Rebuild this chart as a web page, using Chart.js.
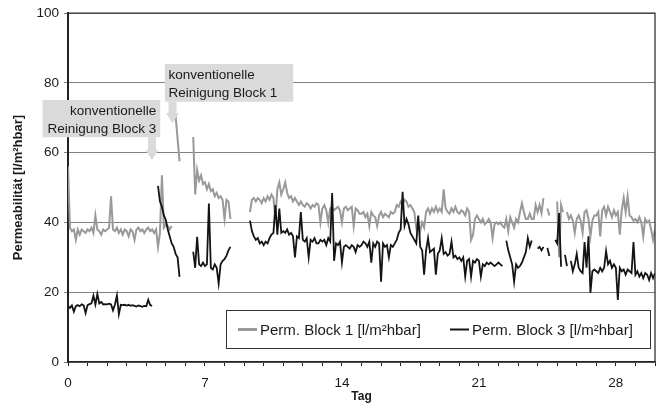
<!DOCTYPE html>
<html lang="de">
<head>
<meta charset="utf-8">
<title>Permeabilität Block 1 / Block 3</title>
<script src="https://cdn.jsdelivr.net/npm/chart.js@4.4.1/dist/chart.umd.min.js"></script>
<style>
  html, body { margin: 0; padding: 0; background: #fff; }
  canvas { display: block; }
</style>
</head>
<body>
<canvas id="perm-chart" width="664" height="405"></canvas>
<script>
// Messwerte alle 0,1 Tage, eine Zeile pro Tag (null = keine Daten)
const SCHRITT = 0.1;

const block1 = [
  56, 38.5, 37.5, 38, 35, 38, 36.5, 38, 37.5, 37,
  38, 37.5, 38.5, 37, 42, 38, 37.5, 36.5, 38, 37.5,
  38, 38.5, 47.5, 38, 37.5, 38.5, 37, 38, 36.5, 38,
  37.5, 36, 38, 37.5, 35, 38, 38.5, 37.5, 38, 37,
  38, 38.5, 37.5, 38, 37, 38, 33, 37, 53.5, 38.5,
  39.5, 39, 38, 39, null, 70.5, 64, 57.5, null, null,
  null, null, null, null, 64.5, 48, 55, 52, 53.5, 51,
  51.5, 49.5, 51, 49, 49.5, 47.5, 48.5, 47, 47.5, 46.5,
  41, 46.5, 46, 41, null, null, null, null, null, null,
  null, null, null, 43, 46.5, 47, 46, 47, 46.5, 45.5,
  47, 46, 47.5, 46.5, 48, 47, 41, 49.5, 51.5, 48,
  49.5, 51.5, 48.5, 47, 47.5, 46, 47, 46, 45, 46,
  45, 44.5, 45.5, 45, 44, 45, 44.5, 45.5, 45, 40,
  44, 45, 43.5, 40, 44, 44.5, 43.5, 44, 44.5, 43.5,
  40, 44, 44.5, 43.5, 44, 44.5, 39, 44, 43.5, 42.5,
  42.5, 43, 41.5, 42.5, 39, 43, 42, 41.5, 39, 42,
  43, 41.5, 42.5, 42, 41.5, 43, 42.5, 43, 45, 44.5,
  46, 45, 46.5, 46, 44.5, 45, 44, 43, 38.5, 40,
  37.5, 40, 38.5, 43, 44, 42.5, 44, 43, 44.5, 43,
  44, 43, 49.5, 44, 43, 42.5, 44, 43, 44.5, 43,
  42.5, 43.5, 43, 42, 44, 43, 35, 36.5, 41, 42,
  41, 40, 41, 39.5, 40, 41, 40, 35.5, 39.5, 40,
  39.5, 40, 39, 38.5, 41, 37.5, 41.5, 40, 38.5, 41,
  40, 43, 45.5, 43, 41, 41, 42.5, 41, 41, 45,
  43, 45, 42.7, 47, null, 44, 42, null, null, null,
  46, 30, 45, 43, null, 43, 41, 42, 40.5, 37,
  41, 42, 40.5, 37, 43, 43.5, 41, 36, 40.5, 42,
  42, 43, 36, 43.5, 44.5, 42, 44.5, 43, 41.5, 43.5,
  42, 43, 36.5, 43.5, 47, 43, 47.5, 42, 41.5, 40.5,
  41, 40, 41.5, 40, 36, 41, 40, 40.5, 38, 35,
  38
];

const block3 = [
  16, 15.5, 16.2, 14.4, 16, 16.3, 16, 16.5, 16.2, 14,
  16.3, 16.6, 16.8, 19, 16.5, 19.5, 16.8, 17.2, 16.5, 16.6,
  16.5, 16.7, 16.5, 14.8, 16.5, 19.1, 13.7, 16.4, 16.3, 16.4,
  16.2, 16.4, 16.1, 16.3, 16.1, 15.9, 16.2, 16, 15.8, 16.1,
  16, 17.8, 16.3, 16.1, null, null, 50.5, 46, 44.5, 42,
  40.7, 38, 36, 34, 33, 31, 30, 24.4, null, null,
  null, null, null, null, 31.6, 27, 35.9, 28, 27.5, 28.5,
  27.5, 28, 45.4, 27, 26.5, 28, 27, 22.5, 28, 29,
  29.5, 30.5, 32, 33, null, null, null, null, null, null,
  null, null, null, 40.5, 37.5, 36, 35, 35.5, 34, 34.5,
  33.5, 34.5, 34, 35.5, 36.5, 37, 45, 36.5, 44, 37,
  37.5, 37, 38, 36.5, 37, 36, 30, 36, 35.5, 43,
  35, 34.5, 35.5, 30, 35, 34.5, 35.5, 34, 34, 35,
  34.5, 35, 33.5, 35.5, 34.5, 48.4, 29, 34, 33.5, 34.5,
  28.5, 33, 33.5, 33, 32.5, 33.5, 33, 31.5, 33.5, 33,
  33.5, 34.5, 34, 33, 34.5, 28.5, 34, 33, 34.5, 34,
  23, 34, 33, 33.5, 30, 33.5, 33, 34, 35, 37,
  38, 48.8, 39, 41, 39.5, 37, 36, 35, 34, 42,
  33, 32, 25, 32, 35.5, 31.5, 32, 32.5, 25, 31,
  32, 35.5, 31, 31.5, 30.5, 31, 34.5, 30, 30.5, 29.5,
  30, 29, 30, 24.5, 29, 29.5, 24.5, 29, 28.5, 29.5,
  29, 24.5, 28, 27.5, 28.5, 28, 28.5, 28, 27.5, 28,
  28.5, 28, 27.5, null, 34.8, 32, 30, 28, 23, 28,
  27, 27.5, 28.5, 30, 31.5, 35.5, 33, 34.8, null, null,
  32.5, 33, 32, 33, null, 32.7, 30.4, null, null, 35,
  34, 42.7, 27.3, null, 30.7, 27.5, null, 29, 26, 28,
  31, 27, 26, 25.5, 34.4, 27, 36, 19.8, 26, 26.5,
  26, 25.5, 27, 26, 27, 31.8, 28, 29, 27, 28,
  27, 17.8, 27, 26, 26.5, 25, 26.5, 26, 25.5, 34.4,
  25, 26, 24.5, 25.5, 24, 25.5, 25, 23.5, 25.5, 24,
  25.5
];

const serienNamen = ['Perm. Block 1 [l/m²hbar]', 'Perm. Block 3 [l/m²hbar]'];
const xBeschriftung = [0, 7, 14, 21, 28];
const yMax = 100;

// Hinweise mit Pfeil auf (Tag, Wert)
const hinweise = [
  { zeilen: ['konventionelle', 'Reinigung Block 1'], tag: 5.34, wert: 68.4, dx: -7.6, dy: -59.3, w: 128.3, h: 37.7, align: 'left' },
  { zeilen: ['konventionelle', 'Reinigung Block 3'], tag: 4.29, wert: 57.9, dx: -109.4, dy: -60, w: 117.7, h: 37.3, align: 'right' }
];

const FONT = '"Liberation Sans", Arial, sans-serif';

function alsPunkte(werte) {
  return werte.map((v, i) => ({ x: Math.round(i * SCHRITT * 10) / 10, y: v }));
}

const rahmenPlugin = {
  id: 'rahmen',
  afterDatasetsDraw(chart) {
    const { ctx, chartArea: a } = chart;
    ctx.save();
    ctx.strokeStyle = '#333';
    ctx.lineWidth = 1.3;
    ctx.beginPath();
    ctx.moveTo(a.left, a.top);
    ctx.lineTo(a.right, a.top);
    ctx.lineTo(a.right, a.bottom);
    ctx.stroke();
    ctx.restore();
  }
};

const hinweisPlugin = {
  id: 'hinweise',
  afterDraw(chart) {
    const { ctx, scales } = chart;
    ctx.save();
    hinweise.forEach(h => {
      const tx = scales.x.getPixelForValue(h.tag);
      const ty = scales.y.getPixelForValue(h.wert);
      const left = tx + h.dx, top = ty + h.dy;
      ctx.fillStyle = '#dadada';
      ctx.fillRect(left, top, h.w, h.h);

      // Pfeil unter dem Kasten
      const schaft = top + h.h;
      ctx.beginPath();
      ctx.moveTo(tx - 4, schaft);
      ctx.lineTo(tx + 4, schaft);
      ctx.lineTo(tx + 4, ty - 10);
      ctx.lineTo(tx + 6.5, ty - 10);
      ctx.lineTo(tx, ty);
      ctx.lineTo(tx - 6.5, ty - 10);
      ctx.lineTo(tx - 4, ty - 10);
      ctx.closePath();
      ctx.fill();

      ctx.fillStyle = '#1a1a1a';
      ctx.font = '13.5px ' + FONT;
      ctx.textBaseline = 'middle';
      ctx.textAlign = h.align;
      const x = h.align === 'left' ? left + 3.5 : left + h.w - 4;
      h.zeilen.forEach((z, i) => ctx.fillText(z, x, top + 11.5 + i * 17.3));
    });
    ctx.restore();
  }
};

const legendePlugin = {
  id: 'legende',
  afterDraw(chart) {
    const { ctx, chartArea: a } = chart;
    const left = a.left + 158, top = a.bottom - 52, w = 424, h = 38;
    const mitte = top + h / 2;
    ctx.save();
    ctx.fillStyle = '#fff';
    ctx.fillRect(left, top, w, h);
    ctx.strokeStyle = '#333';
    ctx.lineWidth = 1;
    ctx.strokeRect(left + 0.5, top + 0.5, w, h);

    ctx.font = '15px ' + FONT;
    ctx.textBaseline = 'middle';
    ctx.textAlign = 'left';
    const starts = [left + 12, left + 224];
    chart.data.datasets.forEach((ds, i) => {
      const x0 = starts[i];
      ctx.strokeStyle = ds.borderColor;
      ctx.lineWidth = i === 0 ? 3 : 2;
      ctx.beginPath();
      ctx.moveTo(x0, mitte + 0.5);
      ctx.lineTo(x0 + 19, mitte + 0.5);
      ctx.stroke();
      ctx.fillStyle = '#1a1a1a';
      ctx.fillText(ds.label, x0 + 22, mitte + 1.5);
    });
    ctx.restore();
  }
};

function initChart() {
  const canvas = document.getElementById('perm-chart');

  new Chart(canvas, {
    type: 'line',
    data: {
      datasets: [
        {
          label: serienNamen[0],
          data: alsPunkte(block1),
          borderColor: '#999999',
          borderWidth: 2,
          pointRadius: 0,
          tension: 0,
          order: 2
        },
        {
          label: serienNamen[1],
          data: alsPunkte(block3),
          borderColor: '#141414',
          borderWidth: 1.8,
          pointRadius: 0,
          tension: 0,
          order: 1
        }
      ]
    },
    options: {
      responsive: false,
      animation: false,
      devicePixelRatio: 1,
      layout: { padding: { top: 13, right: 6, left: 0, bottom: 0 } },
      plugins: {
        legend: { display: false },
        tooltip: { enabled: false }
      },
      scales: {
        x: {
          type: 'linear',
          min: 0,
          max: 30,
          afterFit: s => { s.height = 43; },
          border: { color: '#222', width: 1.5 },
          grid: { drawOnChartArea: false, drawTicks: true, tickLength: 4, color: '#222' },
          ticks: {
            stepSize: 1,
            autoSkip: false,
            maxRotation: 0,
            padding: 9,
            color: '#1a1a1a',
            font: { family: FONT, size: 13.5 },
            callback: v => xBeschriftung.includes(v) ? String(v) : ''
          },
          title: {
            display: true,
            text: 'Tag',
            color: '#1a1a1a',
            font: { family: FONT, size: 12, weight: 'bold' },
            padding: { top: 0, bottom: 1 }
          }
        },
        y: {
          min: 0,
          max: yMax,
          afterFit: s => { s.width = 68; },
          border: { color: '#222', width: 2 },
          grid: { color: '#808080', lineWidth: 1, tickLength: 4 },
          ticks: {
            stepSize: 20,
            padding: 5,
            color: '#1a1a1a',
            font: { family: FONT, size: 13.5 }
          },
          title: {
            display: true,
            text: 'Permeabilität [l/m²hbar]',
            color: '#1a1a1a',
            font: { family: FONT, size: 13, weight: 'bold' },
            padding: { top: 11, bottom: 0 }
          }
        }
      }
    },
    plugins: [rahmenPlugin, hinweisPlugin, legendePlugin]
  });
}

document.addEventListener('DOMContentLoaded', initChart);
</script>
</body>
</html>
